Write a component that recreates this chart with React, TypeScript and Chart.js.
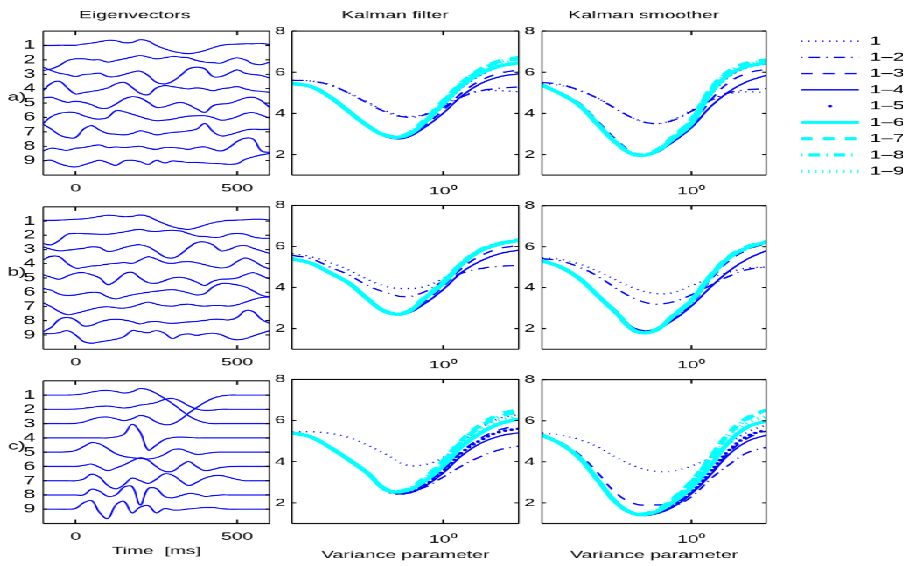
import React, { useEffect, useRef } from 'react';
import { Chart, registerables } from 'chart.js';

Chart.register(...registerables);

const FONT = "'Liberation Sans', Arial, Helvetica, sans-serif";
Chart.defaults.font.family = FONT;
Chart.defaults.color = '#000';

// The figure is laid out on a narrow stage and widened by this factor.
const STRETCH = 1.75;
const FIG_W = 904 / STRETCH;
const FIG_H = 566;

// ---------------------------------------------------------------- data
const SERIES_LABELS = ['1', '1–2', '1–3', '1–4', '1–5', '1–6', '1–7', '1–8', '1–9'];
const COLUMN_TITLES = ['Eigenvectors', 'Kalman filter', 'Kalman smoother'];
const ROW_LABELS = ['a)', 'b)', 'c)'];
const TIME_TITLE = 'Time  [ms]';
const VARIANCE_TITLE = 'Variance parameter';

const TIME_MS = [-100, -75, -50, -25, 0, 25, 50, 75, 100, 125, 150, 175, 200, 225, 250, 275, 300, 325, 350, 375, 400, 425, 450, 475, 500, 525, 550, 575, 600];
const TIME_TICKS = [0, 500];
const EIGEN_TICKS = [1, 2, 3, 4, 5, 6, 7, 8, 9];
const EIGEN_RANGE = [0, 10];

const VARIANCE = [0.01, 0.0178, 0.0316, 0.0562, 0.1, 0.178, 0.316, 0.562, 1, 1.78, 3.16, 5.62, 10];
const VARIANCE_TICKS = [1];
const VARIANCE_TICK_LABEL = '10⁰';
const ERROR_TICKS = [2, 4, 6, 8];
const ERROR_RANGE = [1, 8];

// eigenvector traces, each drawn around its own index
const eigenA: number[][] = [
  [1.0, 1.0, 0.98, 0.98, 0.98, 0.91, 0.84, 0.74, 0.65, 0.67, 0.81, 0.79, 0.6, 0.7, 1.0, 1.23, 1.4, 1.51, 1.58, 1.49, 1.35, 1.16, 1.0, 0.93, 0.91, 0.88, 0.88, 0.86, 0.93],
  [2.74, 2.63, 2.4, 2.05, 1.93, 1.93, 2.0, 2.0, 2.16, 2.05, 1.93, 1.81, 1.7, 1.81, 1.93, 1.86, 1.77, 1.81, 1.86, 2.05, 2.16, 2.19, 2.23, 2.0, 1.86, 2.0, 2.28, 2.33, 2.16],
  [2.51, 2.74, 2.93, 3.02, 3.16, 3.02, 2.98, 2.93, 3.16, 3.16, 3.02, 2.86, 2.79, 3.09, 3.56, 3.67, 3.49, 3.09, 2.63, 2.51, 2.63, 3.16, 3.16, 2.93, 2.7, 2.93, 3.02, 3.09, 3.26],
  [4.14, 3.63, 3.49, 3.95, 4.37, 4.28, 4.19, 4.09, 3.95, 3.67, 3.56, 3.91, 4.33, 4.42, 3.95, 3.79, 3.86, 3.95, 4.02, 3.95, 4.02, 4.14, 4.02, 3.95, 3.86, 4.02, 4.14, 4.19, 4.26],
  [4.65, 4.6, 4.79, 4.95, 4.88, 4.95, 5.12, 5.35, 5.35, 5.07, 4.72, 4.56, 4.65, 4.95, 5.3, 5.26, 5.07, 4.95, 5.12, 5.42, 5.65, 5.19, 5.07, 5.02, 4.84, 4.65, 4.6, 4.84, 5.3],
  [6.42, 5.95, 5.72, 5.65, 5.67, 5.88, 6.05, 6.12, 6.0, 5.53, 5.6, 5.77, 5.95, 6.12, 6.23, 6.19, 6.12, 6.0, 5.91, 5.88, 5.88, 6.0, 6.19, 6.12, 5.95, 5.72, 5.67, 5.84, 6.05],
  [6.47, 6.81, 7.21, 7.4, 7.4, 6.81, 6.58, 6.88, 7.12, 7.16, 7.21, 7.12, 6.93, 7.05, 7.21, 7.12, 7.05, 7.0, 6.93, 6.81, 6.42, 6.98, 7.28, 7.21, 7.05, 6.88, 6.81, 6.84, 6.81],
  [8.33, 8.14, 8.21, 8.28, 8.14, 8.09, 7.98, 7.91, 8.09, 8.05, 8.09, 8.05, 8.0, 8.14, 8.21, 8.09, 8.09, 8.14, 8.21, 8.09, 8.05, 8.21, 8.33, 8.09, 7.67, 7.44, 7.51, 8.33, 8.44],
  [9.02, 8.98, 9.21, 9.37, 9.44, 9.3, 9.12, 8.98, 9.14, 9.33, 9.02, 8.98, 9.07, 9.26, 8.98, 9.16, 9.02, 9.07, 9.12, 9.12, 9.16, 9.19, 9.21, 9.26, 9.21, 8.91, 8.74, 8.6, 8.51],
];

const eigenB: number[][] = [
  [0.95, 0.95, 0.93, 0.91, 0.88, 0.84, 0.77, 0.67, 0.6, 0.63, 0.7, 0.67, 0.58, 0.67, 0.95, 1.19, 1.4, 1.53, 1.58, 1.47, 1.28, 1.12, 1.02, 0.95, 0.93, 0.91, 0.88, 0.88, 0.93],
  [2.58, 2.67, 2.35, 1.93, 1.86, 1.88, 1.91, 1.93, 1.93, 1.86, 1.77, 1.65, 1.58, 1.7, 1.74, 1.67, 1.65, 1.7, 1.88, 2.05, 2.09, 2.14, 2.12, 1.93, 1.86, 1.93, 2.12, 2.21, 2.21],
  [2.81, 2.98, 3.09, 3.05, 2.98, 2.91, 2.81, 2.86, 3.14, 3.05, 2.86, 2.72, 2.67, 2.81, 3.14, 3.51, 3.6, 3.33, 2.86, 2.51, 2.47, 2.67, 3.09, 3.0, 2.77, 2.72, 2.91, 3.09, 3.28],
  [3.72, 3.47, 3.51, 3.98, 4.3, 4.26, 4.16, 4.12, 4.02, 3.98, 3.91, 3.98, 3.74, 3.51, 3.67, 3.91, 3.98, 3.88, 3.84, 3.93, 4.07, 4.21, 4.3, 4.21, 3.84, 3.6, 3.79, 4.14, 4.37],
  [4.77, 4.95, 5.09, 4.86, 4.67, 4.63, 4.77, 5.0, 5.47, 5.19, 4.72, 4.6, 5.0, 5.33, 5.37, 5.19, 5.0, 4.95, 5.07, 5.3, 5.53, 5.23, 5.09, 5.07, 5.0, 4.77, 4.63, 4.84, 5.07],
  [5.74, 5.86, 6.14, 6.23, 6.19, 6.09, 6.0, 6.05, 6.33, 6.47, 6.33, 6.19, 6.09, 6.0, 5.93, 5.86, 5.81, 5.91, 6.05, 6.19, 6.09, 5.63, 5.4, 5.4, 5.49, 5.63, 5.91, 6.21, 6.33],
  [6.74, 7.02, 7.37, 7.58, 7.49, 7.35, 7.19, 7.07, 7.02, 7.09, 7.12, 7.02, 6.84, 6.7, 6.84, 6.95, 6.98, 6.88, 6.84, 6.93, 6.98, 6.93, 6.93, 6.98, 6.88, 6.7, 6.51, 6.37, 6.33],
  [8.77, 8.47, 7.91, 7.77, 7.95, 8.37, 8.33, 8.09, 7.95, 7.91, 7.95, 8.07, 8.23, 8.09, 8.05, 8.14, 8.19, 8.14, 8.09, 8.05, 7.98, 7.91, 7.91, 7.95, 7.77, 7.3, 7.37, 7.91, 8.19],
  [8.88, 8.91, 8.84, 8.7, 9.0, 9.47, 9.58, 9.49, 9.4, 9.3, 9.12, 8.7, 8.77, 8.84, 8.7, 8.88, 9.26, 9.0, 8.93, 9.02, 8.93, 8.88, 8.98, 9.23, 9.35, 9.26, 9.07, 8.88, 8.7],
];

const eigenC: number[][] = [
  [1, 1, 1, 1, 0.98, 0.91, 0.79, 0.7, 0.68, 0.75, 0.86, 0.77, 0.54, 0.63, 0.89, 1.23, 1.6, 2.03, 2.45, 2.75, 2.93, 3.0, 3.0, 3.0, 3.0, 3.0, 3.0, 3.0, 3.0],
  [2, 2, 2, 2, 1.98, 1.93, 1.86, 1.79, 1.77, 1.84, 1.91, 1.84, 1.7, 1.63, 1.52, 1.31, 1.24, 1.43, 1.75, 1.98, 2.07, 2.05, 2.0, 2, 2, 2, 2, 2, 2],
  [3, 3, 3, 3, 2.98, 2.89, 2.7, 2.56, 2.54, 2.66, 2.79, 2.66, 2.43, 2.56, 2.89, 3.07, 3.02, 2.72, 2.26, 1.87, 1.51, 1.23, 1.07, 1.0, 1.0, 1.0, 1.0, 1.0, 1.0],
  [4, 4, 4, 4, 4, 4, 4, 4, 4.0, 3.93, 3.75, 3.05, 3.6, 4.85, 4.5, 4.12, 3.98, 3.95, 3.97, 4, 4, 4, 4, 4, 4, 4, 4, 4, 4],
  [5, 5, 5, 4.98, 4.89, 4.61, 4.33, 4.43, 4.75, 5.11, 5.3, 5.39, 5.44, 5.48, 5.39, 5.16, 4.84, 4.79, 4.98, 5.16, 5.11, 5.02, 5, 5, 5, 5, 5, 5, 5],
  [6, 6, 6, 6, 6, 5.93, 5.84, 6.07, 6.3, 6.11, 5.89, 5.61, 5.39, 5.57, 6.02, 6.34, 6.34, 5.95, 5.66, 6.02, 6.3, 6.21, 6.07, 6.02, 6, 6, 6, 6, 6],
  [7, 7, 7, 7, 7, 6.89, 6.54, 6.77, 7.34, 7.57, 7.28, 6.82, 7.0, 7.18, 6.89, 6.52, 6.61, 7.0, 7.34, 7.11, 6.82, 6.66, 6.63, 6.77, 6.91, 7, 7, 7, 7],
  [8, 8, 8, 8, 8, 8, 7.6, 7.75, 8.1, 8.0, 7.45, 7.4, 8.7, 7.55, 7.55, 8.1, 8.2, 8.05, 7.9, 7.95, 8.1, 8.05, 8, 8, 8, 8, 8, 8, 8],
  [9, 9, 9, 9, 8.95, 8.55, 8.4, 9.25, 9.65, 8.7, 8.45, 9.25, 8.85, 8.75, 9.25, 8.95, 9.05, 9.05, 8.98, 8.93, 8.88, 8.88, 8.95, 9, 9, 9, 9, 9, 9],
];

// error curves against the variance parameter, series 1, 1–2, ... 1–9
const filterA: number[][] = [
  [5.6, 5.57, 5.4, 5.0, 4.55, 4.1, 3.85, 3.95, 4.35, 4.85, 5.1, 5.1, 5.05],
  [5.6, 5.57, 5.38, 4.98, 4.5, 4.05, 3.82, 3.92, 4.3, 4.8, 5.1, 5.22, 5.28],
  [5.45, 5.3, 4.82, 4.12, 3.42, 2.9, 2.85, 3.4, 4.15, 5.0, 5.6, 5.95, 6.1],
  [5.45, 5.3, 4.8, 4.1, 3.4, 2.85, 2.8, 3.3, 4.0, 4.85, 5.45, 5.78, 5.92],
  [5.45, 5.3, 4.8, 4.1, 3.4, 2.9, 2.88, 3.5, 4.4, 5.3, 5.9, 6.28, 6.45],
  [5.45, 5.3, 4.8, 4.1, 3.4, 2.9, 2.9, 3.55, 4.45, 5.35, 5.95, 6.3, 6.45],
  [5.45, 5.3, 4.8, 4.1, 3.4, 2.92, 2.95, 3.65, 4.6, 5.5, 6.15, 6.55, 6.72],
  [5.45, 5.3, 4.8, 4.1, 3.4, 2.92, 2.95, 3.62, 4.55, 5.45, 6.1, 6.5, 6.65],
  [5.45, 5.3, 4.8, 4.1, 3.4, 2.91, 2.93, 3.6, 4.5, 5.42, 6.05, 6.42, 6.58],
];

const smootherA: number[][] = [
  [5.45, 5.35, 5.1, 4.72, 4.2, 3.72, 3.5, 3.68, 4.15, 4.6, 4.95, 5.05, 5.0],
  [5.5, 5.4, 5.12, 4.72, 4.2, 3.72, 3.5, 3.65, 4.1, 4.62, 5.0, 5.15, 5.2],
  [5.4, 5.0, 4.5, 3.6, 2.7, 2.05, 2.05, 2.62, 3.4, 4.6, 5.5, 5.95, 6.15],
  [5.37, 4.95, 4.4, 3.45, 2.55, 2.0, 2.08, 2.6, 3.3, 4.3, 5.05, 5.55, 5.85],
  [5.37, 4.95, 4.4, 3.45, 2.55, 1.98, 2.1, 2.72, 3.5, 4.9, 5.82, 6.25, 6.42],
  [5.37, 4.95, 4.4, 3.45, 2.55, 1.98, 2.1, 2.75, 3.5, 4.95, 5.88, 6.28, 6.45],
  [5.37, 4.95, 4.4, 3.45, 2.55, 1.99, 2.15, 2.85, 3.7, 5.15, 6.05, 6.45, 6.6],
  [5.37, 4.95, 4.4, 3.45, 2.55, 1.99, 2.14, 2.82, 3.65, 5.1, 6.0, 6.4, 6.55],
  [5.37, 4.95, 4.4, 3.45, 2.55, 1.99, 2.12, 2.8, 3.6, 5.05, 5.95, 6.35, 6.5],
];

const filterB: number[][] = [
  [5.65, 5.5, 5.22, 4.85, 4.4, 4.05, 3.95, 4.05, 4.45, 5.1, 5.75, 6.15, 6.35],
  [5.56, 5.4, 5.0, 4.62, 4.1, 3.75, 3.55, 3.78, 4.3, 4.7, 4.92, 5.03, 5.08],
  [5.42, 5.2, 4.75, 4.25, 3.5, 2.85, 2.75, 3.3, 4.05, 4.95, 5.55, 5.9, 6.05],
  [5.4, 5.18, 4.72, 4.22, 3.45, 2.8, 2.72, 3.2, 3.9, 4.75, 5.3, 5.65, 5.82],
  [5.4, 5.18, 4.72, 4.22, 3.45, 2.8, 2.75, 3.42, 4.18, 5.12, 5.78, 6.1, 6.28],
  [5.4, 5.18, 4.72, 4.22, 3.45, 2.8, 2.75, 3.45, 4.2, 5.15, 5.8, 6.12, 6.3],
  [5.4, 5.18, 4.72, 4.22, 3.45, 2.82, 2.78, 3.5, 4.28, 5.2, 5.85, 6.15, 6.32],
  [5.4, 5.18, 4.72, 4.22, 3.45, 2.82, 2.78, 3.48, 4.25, 5.18, 5.82, 6.14, 6.3],
  [5.4, 5.18, 4.72, 4.22, 3.45, 2.81, 2.77, 3.47, 4.23, 5.17, 5.82, 6.14, 6.32],
];

const smootherB: number[][] = [
  [5.45, 5.38, 5.15, 4.8, 4.35, 3.95, 3.72, 3.75, 4.1, 4.45, 4.75, 4.95, 5.0],
  [5.42, 5.3, 5.0, 4.55, 3.95, 3.45, 3.2, 3.3, 3.65, 4.1, 4.55, 4.88, 5.0],
  [5.35, 5.05, 4.5, 3.65, 2.85, 2.0, 1.95, 2.45, 3.2, 4.35, 5.3, 5.85, 6.15],
  [5.32, 5.0, 4.45, 3.6, 2.8, 1.98, 1.95, 2.4, 3.1, 4.0, 4.8, 5.4, 5.8],
  [5.32, 5.0, 4.45, 3.6, 2.75, 1.9, 1.9, 2.55, 3.3, 4.48, 5.42, 5.92, 6.2],
  [5.32, 5.0, 4.45, 3.6, 2.75, 1.88, 1.88, 2.6, 3.35, 4.52, 5.45, 5.95, 6.22],
  [5.32, 5.0, 4.45, 3.6, 2.75, 1.88, 1.9, 2.62, 3.4, 4.58, 5.5, 6.0, 6.25],
  [5.32, 5.0, 4.45, 3.6, 2.75, 1.88, 1.9, 2.62, 3.38, 4.55, 5.48, 5.98, 6.24],
  [5.32, 5.0, 4.45, 3.6, 2.75, 1.88, 1.89, 2.61, 3.37, 4.54, 5.47, 5.97, 6.23],
];

const filterC: number[][] = [
  [5.45, 5.45, 5.38, 5.18, 4.8, 4.35, 3.85, 3.85, 4.2, 4.95, 5.65, 6.1, 6.3],
  [5.4, 5.2, 4.7, 4.1, 3.45, 2.62, 2.5, 2.75, 3.25, 3.8, 4.25, 4.58, 4.76],
  [5.4, 5.2, 4.7, 4.1, 3.45, 2.62, 2.5, 2.9, 3.6, 4.5, 5.15, 5.55, 5.75],
  [5.4, 5.2, 4.7, 4.1, 3.45, 2.6, 2.45, 2.8, 3.45, 4.3, 4.9, 5.25, 5.4],
  [5.4, 5.2, 4.7, 4.1, 3.45, 2.6, 2.47, 2.85, 3.55, 4.45, 5.05, 5.45, 5.6],
  [5.4, 5.2, 4.7, 4.1, 3.45, 2.62, 2.58, 3.05, 3.8, 4.75, 5.4, 5.85, 6.07],
  [5.4, 5.2, 4.7, 4.1, 3.45, 2.65, 2.62, 3.2, 4.05, 5.05, 5.8, 6.3, 6.52],
  [5.4, 5.2, 4.7, 4.1, 3.45, 2.65, 2.62, 3.18, 4.0, 4.98, 5.72, 6.2, 6.42],
  [5.4, 5.2, 4.7, 4.1, 3.45, 2.64, 2.6, 3.12, 3.9, 4.85, 5.55, 6.0, 6.2],
];

const smootherC: number[][] = [
  [5.4, 5.3, 5.08, 4.72, 4.2, 3.78, 3.55, 3.55, 3.8, 4.2, 4.85, 5.45, 5.8],
  [5.3, 4.88, 4.2, 3.1, 2.0, 1.47, 1.5, 1.8, 2.3, 3.15, 3.85, 4.45, 4.7],
  [5.32, 4.95, 4.35, 3.45, 2.45, 1.95, 1.9, 2.0, 2.5, 3.4, 4.45, 5.15, 5.5],
  [5.3, 4.88, 4.2, 3.1, 2.0, 1.44, 1.45, 1.8, 2.45, 3.35, 4.35, 5.0, 5.3],
  [5.3, 4.88, 4.2, 3.1, 2.0, 1.45, 1.48, 1.88, 2.55, 3.5, 4.55, 5.25, 5.55],
  [5.3, 4.88, 4.2, 3.1, 2.0, 1.46, 1.53, 2.03, 2.75, 3.8, 4.95, 5.7, 5.98],
  [5.3, 4.88, 4.2, 3.1, 2.0, 1.48, 1.6, 2.2, 3.05, 4.2, 5.4, 6.15, 6.52],
  [5.3, 4.88, 4.2, 3.1, 2.0, 1.48, 1.58, 2.15, 3.0, 4.15, 5.35, 6.1, 6.5],
  [5.3, 4.88, 4.2, 3.1, 2.0, 1.47, 1.55, 2.1, 2.9, 4.0, 5.15, 5.9, 6.2],
];

const EIGEN_ROWS = [eigenA, eigenB, eigenC];
const FILTER_ROWS = [filterA, filterB, filterC];
const SMOOTHER_ROWS = [smootherA, smootherB, smootherC];

// ---------------------------------------------------------------- styles
const BLUE = '#0000ff';
const CYAN = '#00ffff';
const DOT = [0.8, 3.2];
const DASH = [6.5, 6];
const DASH_DOT = [6.5, 3.5, 0.8, 3.5];
const LEGEND_LINE = 33;

type SeriesStyle = {
  color: string;
  width: number;
  dash: number[];
  cap: CanvasLineCap;
  legendDash?: number[];
  legendOffset?: number;
};

const SERIES_STYLES: SeriesStyle[] = [
  { color: BLUE, width: 1.3, dash: DOT, cap: 'butt' },
  { color: BLUE, width: 1.3, dash: DASH_DOT, cap: 'butt', legendOffset: 10 },
  { color: BLUE, width: 1.3, dash: DASH, cap: 'butt' },
  { color: BLUE, width: 1.3, dash: [], cap: 'butt' },
  { color: BLUE, width: 2.6, dash: [0, 3.8], cap: 'round', legendDash: [0, 1000], legendOffset: -LEGEND_LINE / 2 },
  { color: CYAN, width: 3.2, dash: [], cap: 'butt' },
  { color: CYAN, width: 3.2, dash: DASH, cap: 'butt' },
  { color: CYAN, width: 3.2, dash: DASH_DOT, cap: 'butt', legendOffset: 10 },
  { color: CYAN, width: 3.2, dash: DOT, cap: 'butt' },
];

// ---------------------------------------------------------------- layout
const ROW_TOP = [31, 205, 379];
const ROW_BOTTOM = [175, 349, 523.5];
const COL_PLOT = [[24.57, 153.71], [166.86, 296], [309.71, 437.71]];
// each canvas is centred on its plot so the column title sits over it
const COL_CANVAS = [[0, 178], [155, 153], [298, 151]];
const TICK_LEN = 4;

function cellGeometry(row: number, col: number) {
  const [cl, cw] = COL_CANVAS[col];
  const [pl, pr] = COL_PLOT[col];
  const padTop = row === 0 ? 0 : 10;
  const top = ROW_TOP[row] - (row === 0 ? ROW_TOP[0] : padTop);
  const bottom = row === 2 ? 565 : ROW_BOTTOM[row] + 25;
  return {
    left: cl,
    top,
    width: cw,
    height: bottom - top,
    yAxisWidth: pl - cl,
    padRight: cl + cw - pr,
    padTop,
    xAxisHeight: bottom - ROW_BOTTOM[row],
  };
}

// Box around the plot area with short inward tick marks on all four sides.
const framePlugin = {
  id: 'frame',
  afterDatasetsDraw(chart: any) {
    const { ctx, chartArea: a, scales } = chart;
    const xs = scales.x;
    const ys = scales.y;
    ctx.save();
    ctx.strokeStyle = '#000';
    ctx.setLineDash([]);
    ctx.lineWidth = 1;
    ctx.beginPath();
    ctx.moveTo(a.left, a.top);
    ctx.lineTo(a.right, a.top);
    ctx.moveTo(a.left, a.bottom);
    ctx.lineTo(a.right, a.bottom);
    for (const t of xs.ticks) {
      const px = xs.getPixelForValue(t.value);
      ctx.moveTo(px, a.bottom);
      ctx.lineTo(px, a.bottom - TICK_LEN);
      ctx.moveTo(px, a.top);
      ctx.lineTo(px, a.top + TICK_LEN);
    }
    ctx.stroke();
    ctx.lineWidth = 0.75;
    ctx.beginPath();
    ctx.moveTo(a.left, a.top);
    ctx.lineTo(a.left, a.bottom);
    ctx.moveTo(a.right, a.top);
    ctx.lineTo(a.right, a.bottom);
    ctx.stroke();
    ctx.lineWidth = 1;
    ctx.beginPath();
    for (const t of ys.ticks) {
      const py = ys.getPixelForValue(t.value);
      ctx.moveTo(a.left, py);
      ctx.lineTo(a.left + TICK_LEN / STRETCH, py);
      ctx.moveTo(a.right, py);
      ctx.lineTo(a.right - TICK_LEN / STRETCH, py);
    }
    ctx.stroke();
    ctx.restore();
  },
};

// Row tag such as "a)" to the left of the eigenvector labels.
const rowLabelPlugin = {
  id: 'rowLabel',
  afterDraw(chart: any, _args: any, opts: any) {
    if (!opts || !opts.text) return;
    const { ctx, chartArea, scales } = chart;
    ctx.save();
    ctx.font = `${opts.size}px ${FONT}`;
    ctx.fillStyle = '#000';
    ctx.textAlign = 'center';
    ctx.textBaseline = 'middle';
    ctx.fillText(opts.text, chartArea.left - opts.offset, scales.y.getPixelForValue(opts.value));
    ctx.restore();
  },
};

const noGrid = { display: false, drawTicks: false, drawOnChartArea: false };

function cellConfig(row: number, col: number): any {
  const g = cellGeometry(row, col);
  const eigen = col === 0;
  const lastRow = row === 2;

  const datasets = eigen
    ? EIGEN_ROWS[row].map((trace) => ({
        data: trace.map((y, i) => ({ x: TIME_MS[i], y })),
        borderColor: BLUE,
        borderWidth: 1.1,
        pointRadius: 0,
        tension: 0.4,
        fill: false,
      }))
    : (col === 1 ? FILTER_ROWS : SMOOTHER_ROWS)[row].map((series, s) => {
        const st = SERIES_STYLES[s];
        return {
          label: SERIES_LABELS[s],
          data: series.map((y, i) => ({ x: VARIANCE[i], y })),
          borderColor: st.color,
          borderWidth: st.width,
          borderDash: st.dash,
          borderCapStyle: st.cap,
          pointRadius: 0,
          tension: 0.4,
          fill: false,
          order: SERIES_LABELS.length - s,
        };
      });

  const xTitle = lastRow
    ? {
        display: true,
        text: eigen ? TIME_TITLE : VARIANCE_TITLE,
        font: { size: 11 },
        color: '#000',
        padding: { top: 0, bottom: eigen ? 7.4 : 3.4 },
      }
    : { display: false };

  const xScale = eigen
    ? {
        type: 'linear',
        min: TIME_MS[0],
        max: TIME_MS[TIME_MS.length - 1],
        afterBuildTicks: (s: any) => {
          s.ticks = TIME_TICKS.map((value) => ({ value }));
        },
        ticks: { font: { size: 11 }, padding: 6.9, maxRotation: 0, autoSkip: false, color: '#000' },
      }
    : {
        type: 'logarithmic',
        min: VARIANCE[0],
        max: VARIANCE[VARIANCE.length - 1],
        afterBuildTicks: (s: any) => {
          s.ticks = VARIANCE_TICKS.map((value) => ({ value }));
        },
        ticks: {
          font: { size: 11 },
          padding: 9.4,
          maxRotation: 0,
          autoSkip: false,
          color: '#000',
          callback: () => VARIANCE_TICK_LABEL,
        },
      };

  const yScale = eigen
    ? {
        type: 'linear',
        min: EIGEN_RANGE[0],
        max: EIGEN_RANGE[1],
        reverse: true,
        afterBuildTicks: (s: any) => {
          s.ticks = EIGEN_TICKS.map((value) => ({ value }));
        },
        ticks: { font: { size: 12.5 }, padding: 4.3, autoSkip: false, color: '#000' },
      }
    : {
        type: 'linear',
        min: ERROR_RANGE[0],
        max: ERROR_RANGE[1],
        afterBuildTicks: (s: any) => {
          s.ticks = ERROR_TICKS.map((value) => ({ value }));
        },
        ticks: { font: { size: 11 }, padding: col === 1 ? 3.7 : 4.0, autoSkip: false, color: '#000' },
      };

  return {
    type: 'line',
    data: { datasets },
    plugins: [framePlugin, rowLabelPlugin],
    options: {
      animation: false,
      responsive: true,
      maintainAspectRatio: false,
      devicePixelRatio: STRETCH,
      events: [],
      layout: { padding: { left: 0, right: g.padRight, top: g.padTop, bottom: 0 } },
      plugins: {
        legend: { display: false },
        tooltip: { enabled: false },
        title: {
          display: row === 0,
          text: COLUMN_TITLES[col],
          color: '#000',
          font: { size: 11, weight: 'normal', lineHeight: 1.2 },
          padding: { top: 8.4, bottom: 9.4 },
        },
        rowLabel: eigen ? { text: ROW_LABELS[row], size: 12, offset: 15.1, value: 4.6 } : {},
      },
      scales: {
        x: {
          ...xScale,
          position: 'bottom',
          grid: noGrid,
          border: { display: false },
          title: xTitle,
          afterFit: (s: any) => {
            s.height = g.xAxisHeight;
          },
        },
        y: {
          ...yScale,
          position: 'left',
          grid: noGrid,
          border: { display: false },
          afterFit: (s: any) => {
            s.width = g.yAxisWidth;
          },
        },
      },
    },
  };
}

const LEGEND_BOX = { left: 430, top: 20, width: 86, height: 170 };
const LEGEND_PAD = { left: 23.45, top: 10.75 };

function legendConfig(): any {
  return {
    type: 'line',
    data: { datasets: [] },
    options: {
      animation: false,
      responsive: true,
      maintainAspectRatio: false,
      devicePixelRatio: STRETCH,
      events: [],
      layout: { padding: { top: LEGEND_PAD.top, left: LEGEND_PAD.left, right: 0, bottom: 0 } },
      scales: { x: { display: false }, y: { display: false } },
      plugins: {
        tooltip: { enabled: false },
        title: { display: false },
        legend: {
          display: true,
          position: 'left',
          align: 'start',
          maxWidth: 200,
          labels: {
            usePointStyle: true,
            pointStyle: 'line',
            pointStyleWidth: LEGEND_LINE,
            padding: 4.25,
            color: '#000',
            textAlign: 'left',
            font: { size: 12 },
            generateLabels: () =>
              SERIES_LABELS.map((text, i) => {
                const st = SERIES_STYLES[i];
                return {
                  text,
                  fillStyle: st.color,
                  strokeStyle: st.color,
                  fontColor: '#000',
                  lineWidth: st.width,
                  lineDash: st.legendDash ?? st.dash,
                  lineDashOffset: st.legendOffset ?? 0,
                  lineCap: st.cap,
                  pointStyle: 'line',
                  rotation: 0,
                  textAlign: 'left',
                  hidden: false,
                  datasetIndex: i,
                };
              }),
          },
        },
      },
    },
  };
}

function ChartBox(props: { left: number; top: number; width: number; height: number; make: () => any }) {
  const ref = useRef<HTMLCanvasElement>(null);
  useEffect(() => {
    const chart = new Chart(ref.current as HTMLCanvasElement, props.make());
    return () => chart.destroy();
  }, []);
  return (
    <div style={{ position: 'absolute', left: props.left, top: props.top, width: props.width, height: props.height }}>
      <canvas ref={ref} />
    </div>
  );
}

export default function App() {
  const cells: React.ReactNode[] = [];
  for (let row = 0; row < 3; row++) {
    for (let col = 0; col < 3; col++) {
      const g = cellGeometry(row, col);
      cells.push(
        <ChartBox key={`${row}-${col}`} left={g.left} top={g.top} width={g.width} height={g.height} make={() => cellConfig(row, col)} />
      );
    }
  }
  return (
    <div
      style={{
        position: 'fixed',
        left: 0,
        top: 0,
        width: FIG_W,
        height: FIG_H,
        transform: `scaleX(${STRETCH})`,
        transformOrigin: '0 0',
        background: '#fff',
        overflow: 'hidden',
      }}
    >
      {cells}
      <ChartBox {...LEGEND_BOX} make={legendConfig} />
    </div>
  );
}
